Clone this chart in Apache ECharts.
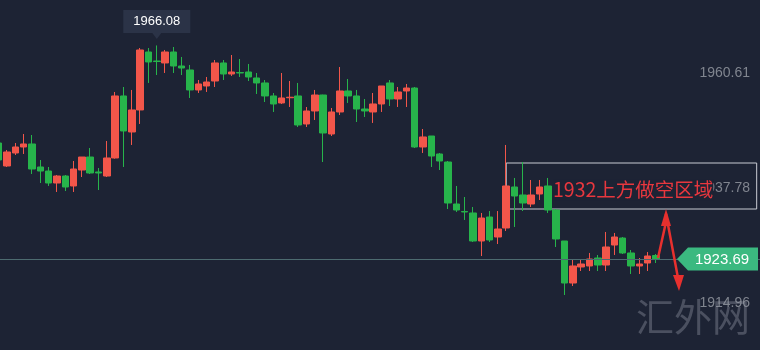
<!DOCTYPE html>
<html><head><meta charset="utf-8">
<script src="https://cdn.jsdelivr.net/npm/echarts@6/dist/echarts.min.js"></script>
<style>html,body{margin:0;padding:0;background:#1d2334;}#c{width:760px;height:350px;}</style>
</head><body><div id="c"></div>
<script>
const opens = [
1946.71,1942.15,1944.73,1945.92,1946.52,1941.95,1941.15,1938.77,1940.16,1938.18,
1941.35,1943.93,1940.96,1940.16,1943.74,1956.05,1948.90,1953.27,1964.78,1962.99,
1962.60,1964.78,1962.00,1961.21,1957.24,1958.03,1959.02,1962.60,1960.41,1960.71,
1960.81,1959.62,1958.63,1956.05,1954.66,1955.70,1956.05,1950.49,1953.07,1956.24,
1948.50,1952.87,1957.04,1956.05,1953.46,1952.87,1954.46,1958.63,1955.45,1957.04,
1957.63,1945.92,1948.10,1944.53,1942.94,1934.60,1933.12,1932.82,1927.26,1932.02,
1928.05,1929.84,1937.98,1936.39,1934.60,1936.59,1938.18,1933.41,1927.26,1918.92,
1922.10,1922.30,1923.88,1922.49,1926.46,1927.85,1924.88,1922.30,1922.89,1924.38];
const closes = [
1943.34,1944.93,1945.92,1946.52,1941.55,1941.15,1938.77,1940.16,1937.98,1941.55,
1943.93,1940.76,1940.76,1943.74,1956.05,1949.10,1953.27,1965.18,1962.80,1962.89,
1964.78,1962.00,1961.60,1957.24,1958.43,1958.82,1962.60,1960.41,1960.81,1960.61,
1959.82,1958.63,1956.05,1954.46,1955.65,1955.80,1950.29,1953.07,1956.24,1948.70,
1952.87,1957.04,1956.05,1953.46,1953.07,1954.46,1958.03,1955.45,1956.84,1957.63,
1945.92,1947.91,1944.13,1943.14,1934.80,1933.41,1933.02,1927.26,1931.82,1927.46,
1929.64,1938.18,1936.19,1934.80,1936.39,1937.98,1933.41,1927.66,1918.92,1922.30,
1922.69,1923.69,1922.49,1926.07,1928.05,1924.88,1922.30,1922.69,1924.28,1923.69];
const lows = [
1942.94,1941.95,1944.33,1944.53,1940.56,1938.77,1938.18,1936.99,1937.18,1936.99,
1939.96,1940.56,1937.38,1939.96,1943.60,1941.95,1946.32,1950.49,1958.63,1960.21,
1960.61,1960.61,1960.21,1955.65,1956.64,1956.84,1957.83,1959.22,1960.02,1959.82,
1959.02,1956.44,1954.85,1952.87,1954.46,1953.86,1949.89,1949.89,1951.28,1942.94,
1948.10,1952.27,1954.66,1950.88,1951.88,1950.69,1952.87,1954.06,1953.86,1953.86,
1945.72,1944.73,1941.95,1941.35,1933.61,1933.02,1931.43,1927.06,1924.28,1927.06,
1926.66,1929.24,1930.04,1933.21,1934.01,1935.40,1932.82,1926.07,1916.54,1918.32,
1921.30,1921.30,1921.30,1921.30,1924.48,1924.68,1920.71,1920.71,1921.30,1922.89];
const highs = [
1947.11,1945.32,1946.71,1948.50,1948.30,1943.34,1941.95,1940.36,1940.36,1943.14,
1943.93,1945.72,1941.75,1947.11,1956.84,1957.83,1957.24,1965.57,1965.57,1966.08,
1965.18,1965.77,1963.79,1962.20,1959.22,1959.82,1963.19,1963.19,1964.18,1963.39,
1962.40,1960.61,1959.22,1956.64,1960.61,1959.02,1958.63,1953.86,1957.24,1956.30,
1953.66,1961.80,1959.42,1957.24,1955.45,1956.64,1958.03,1959.22,1957.83,1958.43,
1957.83,1949.49,1948.10,1944.73,1943.14,1938.18,1935.99,1934.01,1932.82,1933.21,
1933.21,1946.32,1939.77,1942.94,1939.37,1939.37,1939.77,1933.61,1927.26,1923.49,
1923.49,1924.88,1924.48,1929.05,1928.85,1928.05,1925.47,1923.88,1925.07,1924.68];
const axisTicks = [1960.61, 1937.78, 1914.96];
const peakValue = 1966.08, peakIndex = 19;
const lastPrice = 1923.69;
const zoneTop = 1942.74, zoneBottom = 1933.61, zoneStartIndex = 61, zoneEndIndex = 91.1;
const zoneText = '1932上方做空区域';
const watermark = '汇外网';

const UP = '#f2564a', DOWN = '#27b44b', BG = '#1d2334';
const candleData = opens.map((o, i) => [i, o, closes[i], lows[i], highs[i]]);

const chart = echarts.init(document.getElementById('c'));
chart.setOption({
  animation: false,
  backgroundColor: BG,
  grid: { left: 0, right: 0, top: 0, bottom: 0 },
  xAxis: { type: 'value', min: 0.156, max: 91.5, show: false, splitLine: { show: false } },
  yAxis: {
    type: 'value', position: 'right', min: 1905.62, max: 1975.10, scale: true,
    axisLine: { show: false }, axisTick: { show: false }, splitLine: { show: false },
    axisLabel: {
      inside: true, margin: 10, customValues: axisTicks,
      color: '#80858f', fontSize: 14, fontFamily: 'Liberation Sans, Arial',
      formatter: v => v.toFixed(2)
    }
  },
  series: [{
    type: 'candlestick',
    data: candleData,
    encode: { x: 0, y: [1, 2, 3, 4] },
    barWidth: 7,
    clip: false,
    itemStyle: { color: UP, color0: DOWN, borderColor: UP, borderColor0: DOWN, borderColorDoji: DOWN, borderWidth: 1 },
    markLine: {
      silent: true, symbol: 'none',
      lineStyle: { color: '#4d6b70', width: 1, type: 'solid' },
      label: { show: false },
      data: [{ yAxis: lastPrice }]
    },
    markArea: {
      silent: true,
      itemStyle: { color: 'rgba(0,0,0,0)', borderColor: '#c9ccd3', borderWidth: 1 },
      data: [[{ coord: [zoneStartIndex, zoneTop] }, { coord: [zoneEndIndex, zoneBottom] }]]
    },
    markPoint: {
      silent: true,
      data: [
        { coord: [peakIndex, peakValue], symbol: 'rect', symbolSize: [67, 23], symbolOffset: [0, -24],
          itemStyle: { color: '#2b3347' },
          label: { show: true, position: 'inside', formatter: peakValue.toFixed(2), color: '#ffffff', fontSize: 13, fontFamily: 'Liberation Sans, Arial' } },
        { coord: [peakIndex, peakValue], symbol: 'triangle', symbolRotate: 180, symbolSize: [9, 6], symbolOffset: [0, -9.5],
          itemStyle: { color: '#2b3347' }, label: { show: false } }
      ]
    }
  }]
});

const yLast = chart.convertToPixel({ yAxisIndex: 0 }, lastPrice);
const lastPt = chart.convertToPixel({ xAxisIndex: 0, yAxisIndex: 0 }, [opens.length - 1, closes[closes.length - 1]]);
const RED = '#e8302e';
chart.setOption({
  graphic: [
    { type: 'text', left: 636, top: 298, z: 5, style: { text: watermark, fontSize: 38, fontFamily: 'Noto Sans CJK SC', fill: 'rgba(150,156,168,0.38)' } },
    { type: 'text', x: 553, y: 190, z: 10, style: { text: zoneText, fontSize: 19.5, fontFamily: 'Noto Sans CJK SC', fill: '#e8373e', verticalAlign: 'middle', backgroundColor: BG, padding: [2, 0, 0, 0] } },
    { type: 'polygon', z: 10, shape: { points: [[677, yLast], [688, yLast - 11.5], [758, yLast - 11.5], [758, yLast + 11.5], [688, yLast + 11.5]] }, style: { fill: '#3bb980' } },
    { type: 'text', x: 722, y: yLast + 1, z: 11, style: { text: lastPrice.toFixed(2), fontSize: 15, fontFamily: 'Liberation Sans, Arial', fill: '#ffffff', align: 'center', verticalAlign: 'middle' } },
    { type: 'polyline', z: 12, shape: { points: [[lastPt[0] + 2, lastPt[1] - 1], [666, 222], [666, 214], [678, 278]] }, style: { stroke: RED, lineWidth: 2.5, fill: null } },
    { type: 'polygon', z: 12, shape: { points: [[666, 209], [661, 226], [671, 226]] }, style: { fill: RED } },
    { type: 'polygon', z: 12, shape: { points: [[679, 291], [673, 275], [684, 275]] }, style: { fill: RED } }
  ]
});
</script></body></html>
